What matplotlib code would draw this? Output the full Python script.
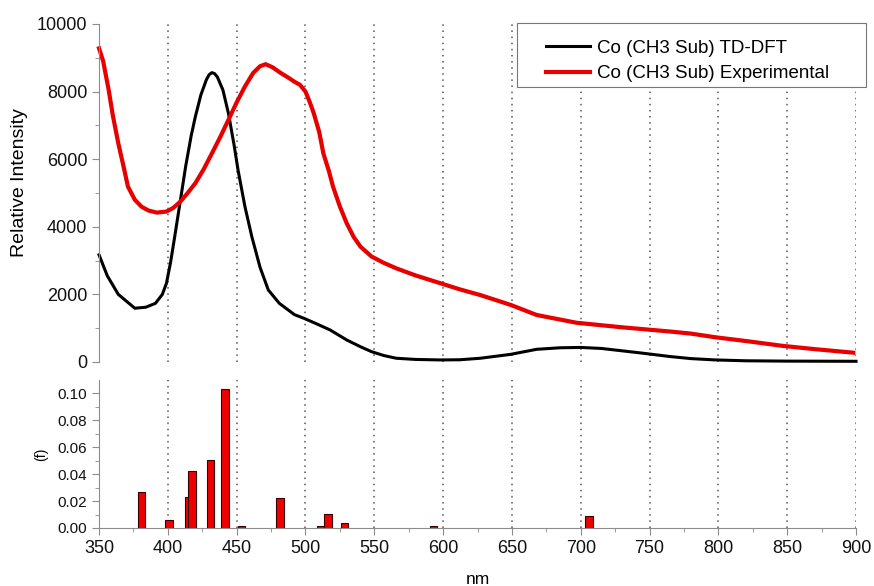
import matplotlib
matplotlib.use("Agg")
import matplotlib.pyplot as plt
from matplotlib.patches import Rectangle
import numpy as np

plt.rcParams['font.family'] = ['Liberation Sans', 'DejaVu Sans']

# TD-DFT calculated spectrum
dft_nm = [350, 356, 364, 376, 384, 391, 396, 399, 402, 405, 409, 413, 417, 420,
          424, 428, 430, 432, 434, 436, 440, 444, 448, 451, 456, 461, 467, 473,
          481, 492, 499, 508, 518, 530, 540, 548, 557, 566, 580, 598, 612, 627,
          649, 668, 685, 700, 715, 729, 745, 765, 780, 798, 820, 850, 900]
dft_int = [3170, 2550, 2000, 1590, 1620, 1735, 2000, 2330, 2950, 3710, 4750, 5800,
           6700, 7260, 7900, 8350, 8500, 8560, 8530, 8430, 8050, 7360, 6450, 5680,
           4600, 3710, 2800, 2130, 1735, 1400, 1290, 1130, 945, 650, 450, 305, 190,
           110, 75, 60, 65, 110, 225, 375, 420, 430, 400, 335, 260, 160, 100, 60,
           35, 25, 20]

# Experimental spectrum
exp_nm = [350, 353, 357, 360, 364, 368, 371, 376, 381, 386, 392, 399, 404, 409,
          414, 420, 426, 432, 438, 444, 450, 456, 462, 467, 471, 476, 482, 488,
          492, 496, 500, 503, 506, 510, 513, 517, 520, 525, 530, 535, 540, 548,
          557, 566, 580, 598, 612, 627, 649, 668, 697, 729, 765, 780, 798, 820,
          847, 870, 898]
exp_int = [9280, 8900, 8050, 7300, 6470, 5750, 5190, 4800, 4590, 4480, 4420, 4450,
           4560, 4740, 4980, 5290, 5700, 6170, 6650, 7160, 7680, 8150, 8550, 8750,
           8810, 8720, 8550, 8400, 8290, 8200, 8000, 7700, 7360, 6800, 6170, 5650,
           5190, 4600, 4100, 3700, 3410, 3120, 2930, 2770, 2560, 2330, 2150, 1980,
           1690, 1390, 1160, 1030, 900, 840, 730, 620, 475, 380, 275]

# Oscillator strengths
osc_nm = [381, 401, 415, 417.5, 431, 441.5, 453.5, 481.5, 511, 516.5, 528.5, 593, 706]
osc_f = [0.0266, 0.006, 0.023, 0.0425, 0.0505, 0.103, 0.0017, 0.022, 0.0015,
         0.0102, 0.004, 0.0015, 0.009]

fig = plt.figure(figsize=(8.74, 5.86), dpi=100)
ax1 = fig.add_axes([0.1133, 0.3823, 0.8661, 0.5768])
ax2 = fig.add_axes([0.1133, 0.099, 0.8661, 0.2526])

spine_col = '#8c8c8c'
grid_col = '#555555'

ax1.plot(dft_nm, dft_int, color='black', lw=2.2, label='Co (CH3 Sub) TD-DFT', clip_on=False)
ax1.plot(exp_nm, exp_int, color='#e60000', lw=3, label='Co (CH3 Sub) Experimental', clip_on=False)
ax1.set_xlim(350, 900)
ax1.set_ylim(0, 10000)
ax1.set_yticks(np.arange(0, 10001, 2000))
ax1.set_yticks(np.arange(0, 10001, 1000), minor=True)
ax1.set_xticks(np.arange(350, 901, 50))
ax1.tick_params(axis='x', bottom=False, labelbottom=False)
ax1.set_ylabel('Relative Intensity', fontsize=14)
ax1.yaxis.set_label_coords(-0.094, 0.53)
for s in ['top', 'right', 'bottom']:
    ax1.spines[s].set_visible(False)
ax1.spines['left'].set_color(spine_col)
ax1.tick_params(axis='y', which='both', colors=spine_col, labelcolor='#111111',
                labelsize=13, direction='out')
ax1.tick_params(axis='y', which='major', length=5)
ax1.tick_params(axis='y', which='minor', length=3)
ax1.grid(axis='x', linestyle=(0, (1, 3)), color=grid_col, lw=1.1)

# legend box drawn separately so its padding matches the original
ax1.add_patch(Rectangle((0.552, 0.814), 0.461, 0.189, transform=ax1.transAxes,
                        facecolor='white', edgecolor='#777777', lw=0.8,
                        clip_on=False, zorder=4))
leg = ax1.legend(loc='upper left', fontsize=13.5, frameon=False, borderpad=0,
                 handlelength=2.35, handletextpad=0.35, labelspacing=0.45,
                 bbox_to_anchor=(0.578, 0.981))
leg.set_zorder(5)

ax2.bar(osc_nm, osc_f, width=5.5, color='#ee0000', edgecolor='#3a0000', linewidth=0.8)
ax2.set_xlim(350, 900)
ax2.set_ylim(0, 0.11)
ax2.set_xticks(np.arange(350, 901, 50))
ax2.set_xticks(np.arange(350, 901, 25), minor=True)
ax2.set_yticks(np.arange(0, 0.101, 0.02))
ax2.set_yticks(np.arange(0, 0.11, 0.01), minor=True)
ax2.set_yticklabels(['0.00', '0.02', '0.04', '0.06', '0.08', '0.10'])
ax2.set_xlabel('nm', fontsize=12.5, labelpad=11)
ax2.set_ylabel('(f)', fontsize=10, labelpad=7)
for s in ['top', 'right']:
    ax2.spines[s].set_visible(False)
ax2.spines['left'].set_color(spine_col)
ax2.spines['bottom'].set_color(spine_col)
ax2.tick_params(axis='both', which='both', colors=spine_col, labelcolor='#111111',
                direction='out')
ax2.tick_params(axis='x', labelsize=13)
ax2.tick_params(axis='y', labelsize=11)
ax2.tick_params(which='major', length=5)
ax2.tick_params(which='minor', length=3)
ax2.grid(axis='x', linestyle=(0, (1, 3)), color=grid_col, lw=1.1)
ax2.set_axisbelow(True)

fig.savefig('out.png', dpi=100)
